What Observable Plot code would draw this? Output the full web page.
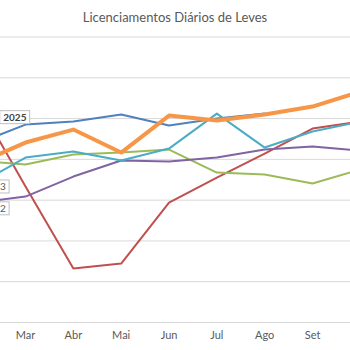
<!DOCTYPE html>
<html>
<head>
<meta charset="utf-8">
<script src="https://cdn.jsdelivr.net/npm/d3@7"></script>
<script src="https://cdn.jsdelivr.net/npm/@observablehq/plot@0.6"></script>
<style>
  html, body { margin: 0; padding: 0; background: #fff; width: 350px; height: 350px; overflow: hidden; }
  #title { height: 32px; line-height: 34px; text-align: center; font-family: Lato, "Open Sans", sans-serif; font-size: 13px; color: #595959; }
  #chart svg { display: block; }
</style>
</head>
<body>
<div id="title">Licenciamentos Diários de Leves</div>
<div id="chart"></div>
<script>
// Month categories (Fev and Out lie just outside the visible window)
const months = ["Fev", "Mar", "Abr", "Mai", "Jun", "Jul", "Ago", "Set", "Out"];
const monthIndex = [2, 3, 4, 5, 6, 7, 8, 9, 10];
const visibleTicks = [3, 4, 5, 6, 7, 8, 9];
const gridValues = [0, 2000, 4000, 6000, 8000, 10000, 12000, 14000];

// Series values (daily licensings)
const years = ["2025", "2020", "2021", "2022", "2023", "2024"];
const colors = ["#4F81BD", "#C0504D", "#9BBB59", "#8064A2", "#4BACC6", "#F79646"];
const widths = [2, 2, 2, 2, 2, 4];
const v2025 = [8775, 9706, 9853, 10196, 9657, 10000, 10245, null, null];
const v2020 = [10784, 6667, 2647, 2892, 5882, 7108, 8284, 9510, 9853];
const v2021 = [7941, 7745, 8235, 8333, 8480, 7353, 7255, 6814, 7500];
const v2022 = [5882, 6176, 7157, 7941, 7892, 8088, 8480, 8627, 8431];
const v2023 = [6765, 8088, 8382, 7941, 8529, 10245, 8578, 9363, 9853];
const v2024 = [7794, 8824, 9461, 8333, 10147, 9902, 10196, 10588, 11324];
const seriesValues = [v2025, v2020, v2021, v2022, v2023, v2024];

// Series name labels (right end at month position, value)
const labelNames = ["2025", "2023", "2022"];
const labelMonths = [3.02, 2.59, 2.59];
const labelValues = [10030, 6630, 5560];
const labelWeights = ["bold", "normal", "normal"];

const rows = [];
years.forEach((y, i) => {
  seriesValues[i].forEach((v, j) => {
    if (v != null) rows.push({year: y, m: monthIndex[j], v});
  });
});
const labels = labelNames.map((n, i) => ({name: n, m: labelMonths[i], v: labelValues[i], w: labelWeights[i]}));

const lineMarks = years.map((y, i) =>
  Plot.line(rows.filter(r => r.year === y), {
    x: "m", y: "v", stroke: colors[i], strokeWidth: widths[i],
    strokeLinejoin: "round", strokeLinecap: "round", clip: true
  })
);

const chart = Plot.plot({
  width: 350,
  height: 318,
  marginTop: 4.5,
  marginBottom: 28,
  marginLeft: 0,
  marginRight: 0,
  style: {fontFamily: "Lato, 'Open Sans', sans-serif", background: "#fff"},
  x: {domain: [2.477, 9.794]},
  y: {domain: [0, 14000], axis: null},
  marks: [
    Plot.ruleY(gridValues, {stroke: "#d9d9d9", strokeWidth: 1}),
    Plot.axisX(visibleTicks, {
      tickSize: 0, tickPadding: 9, fontSize: 11, fill: "#595959",
      tickFormat: d => months[monthIndex.indexOf(d)], label: null
    }),
    ...lineMarks,
    Plot.text(labels.filter(d => d.w === "bold"), {
      x: "m", y: "v", text: "name", fontSize: 10, fontWeight: "bold", fill: "#404040",
      textAnchor: "end"
    }),
    Plot.text(labels.filter(d => d.w !== "bold"), {
      x: "m", y: "v", text: "name", fontSize: 10, fill: "#595959",
      textAnchor: "end"
    })
  ]
});
document.getElementById("chart").appendChild(chart);

// draw boxes around series labels
chart.querySelectorAll('g[aria-label="text"] text').forEach(t => {
  const b = t.getBBox();
  const tr = t.getAttribute("transform");
  const rect = document.createElementNS("http://www.w3.org/2000/svg", "rect");
  rect.setAttribute("x", b.x - 3.5);
  rect.setAttribute("y", b.y - 0.5);
  rect.setAttribute("width", b.width + 6.5);
  rect.setAttribute("height", b.height + 1);
  rect.setAttribute("fill", "#fff");
  rect.setAttribute("stroke", "#bfbfbf");
  rect.setAttribute("stroke-width", 1);
  if (tr) rect.setAttribute("transform", tr);
  t.parentNode.insertBefore(rect, t);
});
</script>
</body>
</html>
